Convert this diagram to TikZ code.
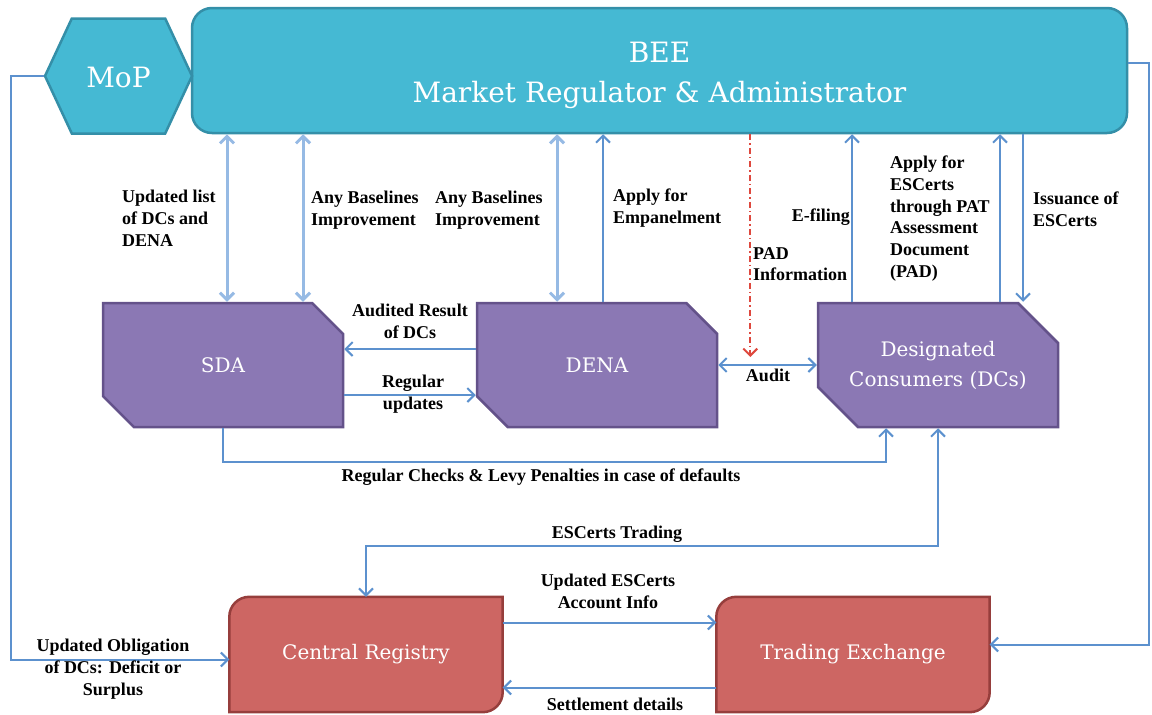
\documentclass[tikz,border=0pt]{standalone}
\usepackage{fontspec}
\setmainfont{Liberation Serif}
\newfontfamily\boxfont{DejaVu Serif}
\usepackage{tikz}
\usetikzlibrary{arrows.meta, positioning, shapes.misc, shapes.symbols, backgrounds}
\definecolor{cTeal}{RGB}{69,185,211}
\definecolor{cTealDark}{RGB}{52,143,168}
\definecolor{cPurple}{RGB}{139,120,180}
\definecolor{cPurpleDark}{RGB}{100,82,138}
\definecolor{cRed}{RGB}{205,102,99}
\definecolor{cRedDark}{RGB}{150,62,60}
\definecolor{cLink}{RGB}{92,145,206}
\definecolor{cLinkLight}{RGB}{150,186,228}
\definecolor{cAlert}{RGB}{222,72,62}
\tikzset{
	regulator/.style ={rectangle, rounded corners=20pt, draw=cTealDark, line width=2.5pt, fill=cTeal, text=white, align=center, font=\boxfont\fontsize{28}{40}\selectfont},
	ministry/.style  ={signal, signal to=west and east, signal pointer angle=130, draw=cTealDark, line width=2.5pt, fill=cTeal, text=white, minimum width=147pt, minimum height=115pt, font=\boxfont\fontsize{28}{34}\selectfont},
	agency/.style    ={chamfered rectangle, chamfered rectangle corners={north east, south west}, chamfered rectangle sep=20pt, draw=cPurpleDark, line width=2.5pt, fill=cPurple, text=white, align=center, minimum width=240pt, minimum height=124pt, font=\boxfont\fontsize{20}{30}\selectfont},
	market/.style    ={rectangle, minimum width=273pt, minimum height=115pt, text=white, font=\boxfont\fontsize{20}{29}\selectfont},
	marketshape/.style={draw=cRedDark, line width=2.5pt, fill=cRed},
	lbl/.style       ={font=\bfseries\fontsize{18}{21.7}\selectfont, align=left, inner sep=0pt},
	% connector styles
	link/.style      ={draw=cLink, line width=2pt, -{Straight Barb[length=7pt, width=14pt]}},
	twoway/.style    ={draw=cLink, line width=2pt, {Straight Barb[length=7pt, width=14pt]}-{Straight Barb[length=7pt, width=14pt]}},
	dlink/.style     ={twoway, draw=cLinkLight, line width=3pt},
	padlink/.style   ={draw=cAlert, line width=2pt, dash pattern=on 6pt off 3pt on 1.5pt off 3pt, -{Straight Barb[length=7pt, width=14pt]}},
}

\begin{document}
\begin{tikzpicture}[x=1pt, y=-1pt]
	\useasboundingbox (0,0) rectangle (1152,715);
	% regulator and ministry
	\node[regulator, minimum width=935pt, minimum height=125pt] (bee) at (659.5,70.5) {\rule{0pt}{30pt}BEE\\Market Regulator \& Administrator};
	\node[ministry] (mop) at (118.5,76) {\rule{0pt}{24pt}MoP};
	% agencies
	\node[agency] (sda) at (223,365) {SDA};
	\node[agency] (dena) at (597,365) {DENA};
	\node[agency] (dcs) at (938,365) {Designated\\Consumers (DCs)};
	% market side
	\node[market] (cr) at (366,654.5) {Central Registry};
	\node[market] (te) at (853,654.5) {Trading Exchange};
	\begin{scope}[on background layer]
		\foreach \m in {cr,te}
			\filldraw[marketshape] (\m.west) [rounded corners=20pt] -- (\m.north west) -- (\m.north) [sharp corners] -- (\m.north east) -- (\m.east) [rounded corners=20pt] -- (\m.south east) -- (\m.south) [sharp corners] -- (\m.south west) -- cycle;
	\end{scope}

	% drop points on the boxes
	\coordinate (sda-a) at ([xshift=4pt]sda.north);
	\coordinate (sda-b) at ([xshift=80pt]sda.north);
	\coordinate (dena-a) at ([xshift=-40pt]dena.north);
	\coordinate (dena-b) at ([xshift=6pt]dena.north);
	\coordinate (pad) at ([xshift=32pt, yshift=8pt]dena.east);
	\coordinate (dcs-a) at ([xshift=-86pt]dcs.north);
	\coordinate (dcs-b) at ([xshift=62pt]dcs.north);
	\coordinate (dcs-c) at ([xshift=85pt]dcs.north);

	% BEE <-> agencies
	\draw[dlink] (sda-a) -- (sda-a |- bee.south);
	\draw[dlink] (sda-b) -- (sda-b |- bee.south);
	\draw[dlink] (dena-a) -- (dena-a |- bee.south);
	\draw[link] (dena-b) -- (dena-b |- bee.south);
	\draw[padlink] (pad |- bee.south) -- (pad);
	\draw[link] (dcs-a) -- (dcs-a |- bee.south);
	\draw[link] (dcs-b) -- (dcs-b |- bee.south);
	\draw[link] (dcs-c |- bee.south) -- (dcs-c);

	% between agencies
	\draw[link] ([yshift=16pt]dena.west) -- ([yshift=16pt]sda.east);
	\draw[link] ([yshift=-30pt]sda.east) -- ([yshift=-30pt]dena.west);
	\draw[twoway] (dena.east) -- (dcs.west);
	\draw[link] (sda.south) -- ++(0,34) -| ([xshift=-52pt]dcs.south);
	\draw[twoway] (dcs.south) -- ++(0,118) -| (cr.north);

	% registry and exchange
	\draw[link] ([yshift=32pt]cr.east) -- ([yshift=32pt]te.west);
	\draw[link] ([yshift=-33pt]te.west) -- ([yshift=-33pt]cr.east);
	\draw[link] (mop.west) -- ++(-33,0) |- ([yshift=-5pt]cr.west);
	\draw[link] ([yshift=8pt]bee.east) -- ++(21,0) |- ([yshift=10pt]te.east);

	% labels
	\node[lbl, anchor=north west] (l-list) at (122,190) {Updated list\\of DCs and\\DENA};
	\node[lbl, anchor=north west] (l-base1) at (311,191) {Any Baselines\\Improvement};
	\node[lbl, anchor=north west] (l-base2) at (435,191) {Any Baselines\\Improvement};
	\node[lbl, anchor=north west] (l-emp) at (613,189) {Apply for\\Empanelment};
	\node[lbl, anchor=north west] (l-pad) at (753,247) {PAD\\Information};
	\node[lbl, anchor=north east] (l-efile) at (850,209) {E-filing};
	\node[lbl, anchor=north west] (l-apply) at (890,156) {Apply for\\ESCerts\\through PAT\\Assessment\\Document\\(PAD)};
	\node[lbl, anchor=north west] (l-issue) at (1033,192) {Issuance of\\ESCerts};
	\node[lbl, anchor=north, align=center] (l-audres) at (410,304) {Audited Result\\of DCs};
	\node[lbl, anchor=north, align=center] (l-regup) at (413,375) {Regular\\updates};
	\node[lbl, anchor=north] (l-audit) at (768,369) {Audit};
	\node[lbl, anchor=north] (l-checks) at (541,469) {Regular Checks \& Levy Penalties in case of defaults};
	\node[lbl, anchor=north] (l-trade) at (617,526) {ESCerts Trading};
	\node[lbl, anchor=north, align=center] (l-acct) at (608,574) {Updated ESCerts\\Account Info};
	\node[lbl, anchor=north] (l-settle) at (615,698) {Settlement details};
	\node[lbl, anchor=north, align=center] (l-oblig) at (113,639) {Updated Obligation\\of DCs: Deficit or\\Surplus};
\end{tikzpicture}
\end{document}
